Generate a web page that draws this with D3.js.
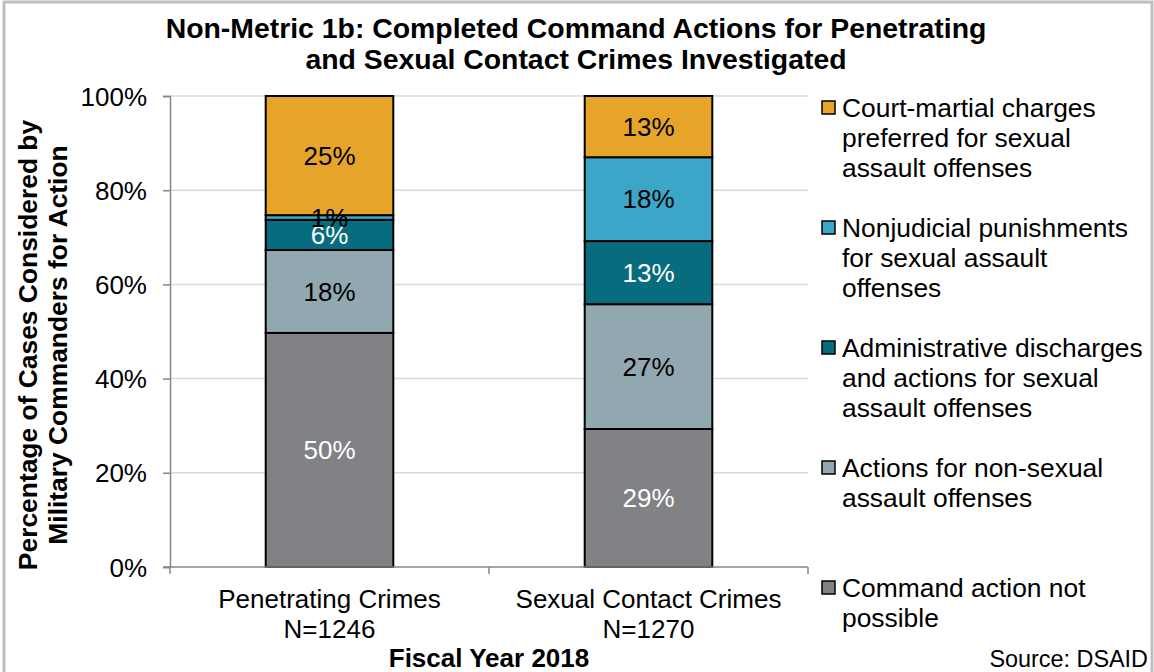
<!DOCTYPE html>
<html>
<head>
    <title>Non-Metric 1b</title>
    <script src="https://d3js.org/d3.v7.min.js"></script>
    <style>
        body { margin: 0; background: #fff; }
        text { font-family: "Liberation Sans", Arial, sans-serif; fill: #000; }
        .grid line { stroke: #d9d9d9; stroke-width: 1.5px; }
        .axis path, .axis line { stroke: #868686; stroke-width: 1.5px; }
        .tick text { font-size: 26px; }
        .seg { stroke: #000; stroke-width: 2px; }
        .val { font-size: 26px; }
        .leg { font-size: 26.4px; }
    </style>
</head>
<body>
<div id="chart"></div>
<script>
    // Data
    var categories = ["Penetrating Crimes", "Sexual Contact Crimes"];
    var counts = ["N=1246", "N=1270"];
    var seriesNames = [
        "Command action not possible",
        "Actions for non-sexual assault offenses",
        "Administrative discharges and actions for sexual assault offenses",
        "Nonjudicial punishments for sexual assault offenses",
        "Court-martial charges preferred for sexual assault offenses"
    ];
    // legend lines as wrapped in the original
    var legendLines = [
        ["Command action not", "possible"],
        ["Actions for non-sexual", "assault offenses"],
        ["Administrative discharges", "and actions for sexual", "assault offenses"],
        ["Nonjudicial punishments", "for sexual assault", "offenses"],
        ["Court-martial charges", "preferred for sexual", "assault offenses"]
    ];
    var penetrating = [49.7, 17.6, 6.4, 1.0, 25.3];
    var sexualContact = [29.3, 26.5, 13.4, 17.8, 13.0];
    var valueLabels = [["50%", "18%", "6%", "1%", "25%"], ["29%", "27%", "13%", "18%", "13%"]];
    var colors = ["#818286", "#92a8b0", "#066c7e", "#3ba6c8", "#e7a42b"];
    var labelColors = ["#fff", "#000", "#fff", "#000", "#000"];
    var yTicks = [0, 20, 40, 60, 80, 100];

    var width = 1154, height = 672;
    var margin = { left: 170, right: 346, top: 96, bottom: 105 };

    var svg = d3.select("#chart").append("svg")
        .attr("width", width)
        .attr("height", height);

    // outer frame
    svg.append("rect")
        .attr("x", 4).attr("y", 2)
        .attr("width", width - 6).attr("height", height)
        .attr("fill", "none")
        .attr("stroke", "#bfbfbf")
        .attr("stroke-width", 3);

    var x = d3.scaleBand()
        .domain(categories)
        .range([margin.left, width - margin.right])
        .paddingInner(0.6)
        .paddingOuter(0.3);

    var y = d3.scaleLinear()
        .domain([0, 100])
        .range([height - margin.bottom, margin.top]);

    // gridlines
    svg.append("g")
        .attr("class", "grid")
        .selectAll("line")
        .data(yTicks.filter(d => d > 0))
        .enter().append("line")
        .attr("x1", margin.left)
        .attr("x2", width - margin.right)
        .attr("y1", d => y(d))
        .attr("y2", d => y(d));

    // y axis
    var yAxis = svg.append("g")
        .attr("class", "axis")
        .attr("transform", "translate(" + margin.left + ",0)")
        .call(d3.axisLeft(y).tickValues(yTicks).tickFormat(d => d + "%").tickSize(7).tickPadding(16));
    yAxis.selectAll("text").attr("dy", "0.35em");

    // stacked bars
    var data = [penetrating, sexualContact];
    data.forEach(function(vals, ci) {
        var base = 0;
        vals.forEach(function(v, si) {
            var y0 = base, y1 = base + v;
            base = y1;
            svg.append("rect")
                .attr("class", "seg")
                .attr("x", x(categories[ci]))
                .attr("width", x.bandwidth())
                .attr("y", y(y1))
                .attr("height", y(y0) - y(y1))
                .attr("fill", colors[si]);
        });
    });
    // value labels drawn on top of bars
    data.forEach(function(vals, ci) {
        var base = 0;
        vals.forEach(function(v, si) {
            var mid = base + v / 2;
            base += v;
            svg.append("text")
                .attr("class", "val")
                .attr("x", x(categories[ci]) + x.bandwidth() / 2)
                .attr("y", y(mid))
                .attr("dy", "0.35em")
                .attr("text-anchor", "middle")
                .style("fill", labelColors[si])
                .text(valueLabels[ci][si]);
        });
    });

    // x axis
    var xAxisY = y(0);
    svg.append("line")
        .attr("class", "axis")
        .attr("x1", margin.left - 7).attr("x2", width - margin.right)
        .attr("y1", xAxisY).attr("y2", xAxisY)
        .style("stroke", "#868686").style("stroke-width", 1.5);
    var step = (width - margin.right - margin.left) / categories.length;
    d3.range(categories.length + 1).forEach(function(i) {
        svg.append("line")
            .attr("x1", margin.left + i * step).attr("x2", margin.left + i * step)
            .attr("y1", xAxisY).attr("y2", xAxisY + 7)
            .style("stroke", "#868686").style("stroke-width", 1.5);
    });
    categories.forEach(function(c, i) {
        var cx = x(c) + x.bandwidth() / 2;
        svg.append("text")
            .attr("x", cx).attr("y", 608)
            .attr("text-anchor", "middle")
            .style("font-size", "26px")
            .text(c);
        svg.append("text")
            .attr("x", cx).attr("y", 638)
            .attr("text-anchor", "middle")
            .style("font-size", "26px")
            .text(counts[i]);
    });

    // title
    svg.append("text")
        .attr("x", 576).attr("y", 38)
        .attr("text-anchor", "middle")
        .style("font-size", "28.4px").style("font-weight", "bold")
        .text("Non-Metric 1b: Completed Command Actions for Penetrating");
    svg.append("text")
        .attr("x", 576).attr("y", 69)
        .attr("text-anchor", "middle")
        .style("font-size", "28.4px").style("font-weight", "bold")
        .text("and Sexual Contact Crimes Investigated");

    // y axis title
    var yt = svg.append("text")
        .attr("transform", "translate(0,345) rotate(-90)")
        .attr("text-anchor", "middle")
        .style("font-size", "26.4px").style("font-weight", "bold");
    yt.append("tspan").attr("x", 0).attr("y", 37).text("Percentage of Cases Considered by");
    yt.append("tspan").attr("x", 0).attr("y", 67).text("Military Commanders for Action");

    // x axis title
    svg.append("text")
        .attr("x", margin.left + step).attr("y", 667)
        .attr("text-anchor", "middle")
        .style("font-size", "26px").style("font-weight", "bold")
        .text("Fiscal Year 2018");

    // source
    svg.append("text")
        .attr("x", 1148).attr("y", 667)
        .attr("text-anchor", "end")
        .style("font-size", "23.4px")
        .text("Source: DSAID");

    // legend (top item is last series)
    var legendOrder = [4, 3, 2, 1, 0];
    legendOrder.forEach(function(si, k) {
        var top = 108 + k * 120;
        svg.append("rect")
            .attr("x", 822).attr("y", top - 7)
            .attr("width", 13).attr("height", 13)
            .attr("fill", colors[si])
            .attr("stroke", "#000").attr("stroke-width", 1.5);
        var t = svg.append("text").attr("class", "leg");
        legendLines[si].forEach(function(line, li) {
            t.append("tspan")
                .attr("x", 842)
                .attr("y", top + li * 30)
                .attr("dy", "0.35em")
                .text(line);
        });
    });
</script>
</body>
</html>
